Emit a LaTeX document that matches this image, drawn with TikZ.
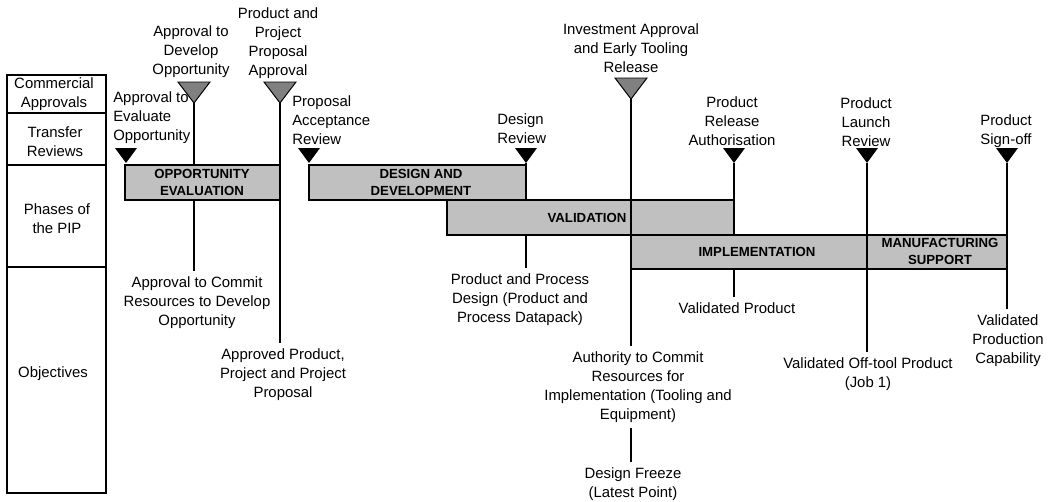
\documentclass[tikz,border=0pt]{standalone}
\usepackage{fontspec}
\setmainfont{Liberation Sans}
\usepackage{tikz}
\usepackage{xcolor}
\usetikzlibrary{calc}

\definecolor{barfill}{RGB}{192,192,192}
\definecolor{appfill}{RGB}{128,128,128}

\tikzset{
  txt/.style={font=\fontsize{10.6}{13.5}\selectfont, align=center, inner sep=0pt},
  txtl/.style={txt, align=left, anchor=west},
  obj/.style={txt, inner sep=4pt},
  phase/.style={draw, line width=1.3pt, fill=barfill},
  phasetxt/.style={font=\fontsize{9.4}{12}\selectfont\bfseries, align=center, inner sep=0pt},
  stem/.style={line width=1.3pt},
  review/.style={fill=black},
  approval/.style={draw, line width=0.7pt, fill=appfill},
}

\begin{document}
\begin{tikzpicture}[x=0.025cm, y=-0.025cm]
\useasboundingbox (0,0) rectangle (1053,501);
% Key column
\draw[line width=1.3pt] (7,75) rectangle (106,493);
\draw[line width=1.3pt] (7,113) -- (106,113) (7,165) -- (106,165) (7,267) -- (106,267);
\node[txt] (kca) at (54,94) {Commercial\\Approvals};
\node[txt] (ktr) at (55,142) {Transfer\\Reviews};
\node[txt] (kph) at (57,218.5) {Phases of\\the PIP};
\node[txt] (kob) at (53,374) {Objectives};
% Milestone points
\coordinate (evalrev) at (126,163);
\coordinate (accrev) at (309,163);
\coordinate (desrev) at (526,163);
\coordinate (relrev) at (734,163);
\coordinate (launchrev) at (867,163);
\coordinate (signrev) at (1007,163);
\coordinate (devapp) at (194,103);
\coordinate (propapp) at (280,103);
\coordinate (invapp) at (631,99);
% Objectives
\node[obj] (devobj) at (197,303) {Approval to Commit\\Resources to Develop\\Opportunity};
\node[obj] (propobj) at (283,375) {Approved Product,\\Project and Project\\Proposal};
\node[obj] (desobj) at (520,300) {Product and Process\\Design (Product and\\Process Datapack)};
\node[obj] (relobj) at (737,308) {Validated Product};
\node[obj] (authobj) at (638,387) {Authority to Commit\\Resources for\\Implementation (Tooling and\\Equipment)};
\node[obj] (freezeobj) at (633,484) {Design Freeze\\(Latest Point)};
\node[obj] (launchobj) at (868,374) {Validated Off-tool Product\\(Job 1)};
\node[obj] (signobj) at (1008,340.5) {Validated\\Production\\Capability};
% Stems
\draw[stem] (devapp) -- (devapp |- devobj.north);
\draw[stem] (propapp) -- (propapp |- propobj.north);
\draw[stem] (desrev) -- (desrev |- desobj.north);
\draw[stem] (relrev) -- (relrev |- relobj.north);
\draw[stem] (launchrev) -- (launchrev |- launchobj.north);
\draw[stem] (signrev) -- (signrev |- signobj.north);
% Phases
\draw[phase] (125,165) rectangle (280,200);
\node[phasetxt] (oe) at (202,182.5) {OPPORTUNITY\\EVALUATION};
\draw[phase] (309,165) rectangle (526,200);
\node[phasetxt] (dd) at (421,182.5) {DESIGN AND\\DEVELOPMENT};
\draw[phase] (447,200) rectangle (734,235);
\node[phasetxt] (val) at (587,217.5) {VALIDATION};
\draw[phase] (631,235) rectangle (867,269);
\node[phasetxt] (imp) at (757,252) {IMPLEMENTATION};
\draw[phase] (867,235) rectangle (1007,269);
\node[phasetxt] (ms) at (940,251.5) {MANUFACTURING\\SUPPORT};
% Investment stem runs over the bars
\draw[stem] (invapp) -- (invapp |- authobj.north);
\draw[stem] (authobj.south -| invapp) -- (freezeobj.north -| invapp);
% Transfer reviews
\foreach \m in {evalrev, accrev, desrev, relrev, launchrev, signrev}
  \fill[review] (\m) -- ++(-11,-15) -- ++(22,0) -- cycle;
% Commercial approvals
\foreach \m in {devapp, propapp, invapp}
  \draw[approval] (\m) -- ++(-16,-21) -- ++(32,0) -- cycle;
% Milestone labels
\node[txtl] (evaltxt) at (113,118) {Approval to\\Evaluate\\Opportunity};
\node[txtl] (acctxt) at (292,120.5) {Proposal\\Acceptance\\Review};
\node[txtl] (destxt) at (497,128.5) {Design\\Review};
\node[txt] (reltxt) at (732,121) {Product\\Release\\Authorisation};
\node[txt] (launchtxt) at (866,122.5) {Product\\Launch\\Review};
\node[txt] (signtxt) at (1006,131.5) {Product\\Sign-off};
\node[txt] (devtxt) at (191,52) {Approval to\\Develop\\Opportunity};
\node[txt] (proptxt) at (278,43.5) {Product and\\Project\\Proposal\\Approval};
\node[txt] (invtxt) at (631,48.5) {Investment Approval\\and Early Tooling\\Release};
\end{tikzpicture}
\end{document}
